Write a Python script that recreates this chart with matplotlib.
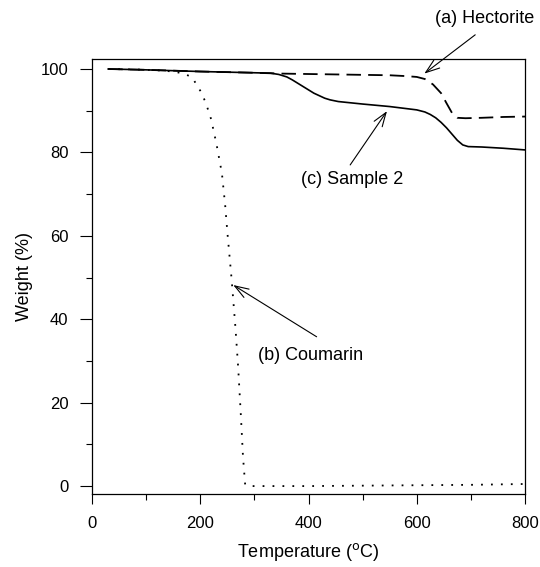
import matplotlib
matplotlib.use("Agg")
import matplotlib.pyplot as plt
from matplotlib.ticker import MultipleLocator

plt.rcParams['font.family'] = ['Liberation Sans', 'DejaVu Sans']

# (a) Hectorite
temp_a = [30, 100, 200, 300, 350, 400, 500, 550, 580, 600, 615, 630, 645, 655, 665, 675, 690, 720, 760, 800]
wt_a = [100, 99.8, 99.4, 99.1, 98.9, 98.8, 98.6, 98.5, 98.3, 98.1, 97.6, 96.3, 94.2, 91.8, 89.5, 88.3, 88.2, 88.3, 88.5, 88.6]

# (b) Coumarin
temp_b = [30, 80, 120, 150, 170, 185, 200, 210, 220, 230, 240, 246, 250, 258, 265, 270, 275, 279, 283, 290,
          400, 500, 600, 700, 800]
wt_b = [100, 99.9, 99.7, 99.4, 98.9, 98.0, 94.8, 92.0, 88.0, 82.0, 75.0, 67.4, 61.0, 49.5, 38.0, 28.6, 17.0, 7.0, 0.3, 0.0,
        0.0, 0.1, 0.2, 0.3, 0.5]

# (c) Sample 2
temp_c = [30, 100, 200, 300, 330, 345, 360, 370, 380, 390, 400, 410, 420, 430, 440, 455, 470, 500, 550, 600, 615, 625,
          635, 645, 655, 665, 675, 685, 695, 720, 760, 800]
wt_c = [100, 99.8, 99.4, 99.1, 99.0, 98.7, 98.1, 97.4, 96.6, 95.8, 95.0, 94.2, 93.6, 93.0, 92.6, 92.2, 92.0, 91.6, 91.0, 90.2,
        89.7, 89.1, 88.3, 87.2, 85.9, 84.4, 82.9, 81.8, 81.4, 81.3, 81.0, 80.6]

# annotations: label, text position, arrow tail, arrow head
labels = ['(a) Hectorite', '(c) Sample 2', '(b) Coumarin']
text_xy = [(725, 112.2), (480, 73.6), (403, 31.4)]
tail_xy = [(708, 108.2), (477, 77.0), (415, 35.8)]
head_xy = [(614, 98.9), (545, 89.9), (261, 48.2)]

fig = plt.figure(figsize=(5.4, 5.67), dpi=100)
ax = fig.add_axes([92 / 540, 1 - 494 / 567, 433 / 540, 435 / 567])

ax.plot(temp_a, wt_a, color='black', lw=1.3, ls=(0, (8, 4)))
ax.plot(temp_b, wt_b, color='black', lw=1.3, ls=(0, (1, 4.5)))
ax.plot(temp_c, wt_c, color='black', lw=1.2)

ax.set_xlim(0, 800)
ax.set_ylim(-1.9, 102.4)
ax.xaxis.set_major_locator(MultipleLocator(200))
ax.xaxis.set_minor_locator(MultipleLocator(100))
ax.yaxis.set_major_locator(MultipleLocator(20))
ax.yaxis.set_minor_locator(MultipleLocator(10))
ax.tick_params(which='major', direction='out', length=7, width=0.8, labelsize=12, pad=9)
ax.tick_params(which='minor', direction='out', length=4, width=0.8)
ax.tick_params(axis='y', which='major', length=9, pad=8)
for s in ax.spines.values():
    s.set_linewidth(0.9)

ax.set_xlabel('Temperature ($^{\\mathrm{o}}$C)', fontsize=13)
ax.set_ylabel('Weight (%)', fontsize=13)
ax.xaxis.set_label_coords(0.5, -0.108)
ax.yaxis.set_label_coords(-0.136, 0.5)

arrow = dict(arrowstyle='->,head_length=1.0,head_width=0.35', color='black', lw=0.8, shrinkA=0, shrinkB=0)
for lab, txy, tail, head in zip(labels, text_xy, tail_xy, head_xy):
    ax.text(txy[0], txy[1], lab, fontsize=13, ha='center', va='center', clip_on=False)
    ax.annotate('', xy=head, xytext=tail, arrowprops=arrow, annotation_clip=False)

fig.savefig('out.png', dpi=100)
